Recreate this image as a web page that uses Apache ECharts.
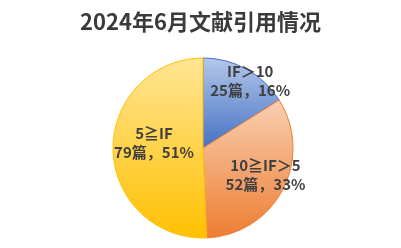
<!DOCTYPE html>
<html>
<head>
<meta charset="utf-8">
<script src="https://cdn.jsdelivr.net/npm/echarts@6/dist/echarts.min.js"></script>
<style>html,body{margin:0;padding:0;background:#fff}#c{width:401px;height:248px}</style>
</head>
<body>
<div id="c"></div>
<script>
var titleText = '2024年6月文献引用情况';
var categories = ['IF＞10', '10≧IF＞5', '5≧IF'];
var counts = [25, 52, 79];
var percents = ['16%', '33%', '51%'];
var lightColors = ['#b4c7ea', '#f9cfb2', '#ffe595'];
var darkColors = ['#4472c4', '#ed7d31', '#ffc000'];
var labelShift = [[24, -25], [20, 4], [-1, -6]];

var chart = echarts.init(document.getElementById('c'), null, {renderer: 'canvas'});
var data = categories.map(function (name, i) {
  return {
    name: name,
    value: counts[i],
    itemStyle: {
      color: new echarts.graphic.LinearGradient(0, 0, 0, 1, [
        {offset: 0, color: lightColors[i]},
        {offset: 1, color: darkColors[i]}
      ]),
      borderColor: darkColors[i],
      borderWidth: 1
    }
  };
});
chart.setOption({
  animation: false,
  title: {
    text: titleText,
    left: 'center',
    top: 6,
    textStyle: {
      fontFamily: 'Noto Sans CJK SC',
      fontWeight: 'bold',
      fontSize: 22,
      color: '#3a3a3a'
    }
  },
  series: [{
    type: 'pie',
    center: [203, 148],
    radius: [0, 90],
    startAngle: 90,
    clockwise: true,
    data: data,
    label: {
      show: true,
      position: 'inside',
      formatter: function (p) {
        return p.name + '\n' + counts[p.dataIndex] + '篇，' + percents[p.dataIndex];
      },
      fontFamily: 'Noto Sans CJK SC',
      fontWeight: 'bold',
      fontSize: 15,
      lineHeight: 19,
      color: '#404040'
    },
    labelLine: {show: false},
    labelLayout: function (p) {
      var s = labelShift[p.dataIndex];
      return {dx: s[0], dy: s[1]};
    },
    emphasis: {disabled: true}
  }]
});
</script>
</body>
</html>
